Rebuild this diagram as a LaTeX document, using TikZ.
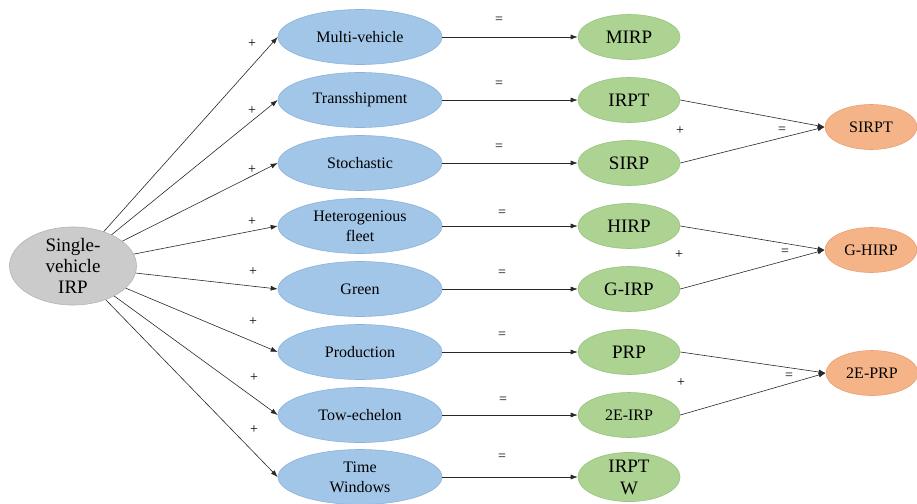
\documentclass[tikz,border=0pt]{standalone}
\usepackage{fontspec}
\newfontfamily\tnr{Liberation Serif}
\usetikzlibrary{shapes.geometric,arrows.meta}
\definecolor{bluef}{RGB}{162,198,232}
\definecolor{blued}{RGB}{140,178,220}
\definecolor{greenf}{RGB}{172,211,146}
\definecolor{greend}{RGB}{150,195,125}
\definecolor{orangef}{RGB}{245,180,136}
\definecolor{oranged}{RGB}{232,160,115}
\definecolor{grayf}{RGB}{203,203,203}
\definecolor{grayd}{RGB}{180,180,180}
\definecolor{linec}{RGB}{40,40,40}
\tikzset{
  base/.style={ellipse, inner sep=0pt, align=center},
  bluenode/.style={base, fill=bluef, draw=blued, line width=0.6pt,
     minimum width=164pt, minimum height=55pt, font=\tnr\fontsize{16}{20}\selectfont},
  greennode/.style={base, fill=greenf, draw=greend, line width=0.6pt,
     minimum width=102pt, minimum height=45pt, font=\tnr\fontsize{19}{22}\selectfont},
  orangenode/.style={base, fill=orangef, draw=oranged, line width=0.6pt,
     minimum width=92pt, minimum height=45pt, font=\tnr\fontsize{16}{19}\selectfont},
  graynode/.style={base, fill=grayf, draw=grayd, line width=0.6pt,
     minimum width=127pt, minimum height=68pt, font=\tnr\fontsize{19}{21}\selectfont},
  conn/.style={draw=linec, line width=0.6pt, -{Latex[length=7pt,width=5pt]}},
  lbl/.style={font=\tnr\fontsize{14}{14}\selectfont, inner sep=0pt},
}
\begin{document}
\begin{tikzpicture}[x=1pt,y=-1pt]
\useasboundingbox (0,0) rectangle (917,503);
\node[graynode] (src) at (73,266) {Single-\\vehicle\\IRP};

\node[bluenode] (b1) at (360,37) {Multi-vehicle};
\node[bluenode] (b2) at (360,100) {Transshipment};
\node[bluenode] (b3) at (360,163) {Stochastic};
\node[bluenode] (b4) at (360,226) {Heterogenious\\fleet};
\node[bluenode] (b5) at (360,289) {Green};
\node[bluenode] (b6) at (360,352) {Production};
\node[bluenode] (b7) at (360,415) {Tow-echelon};
\node[bluenode] (b8) at (360,477) {Time\\Windows};

\node[greennode] (g1) at (629,37) {MIRP};
\node[greennode] (g2) at (629,100) {IRPT};
\node[greennode] (g3) at (629,163) {SIRP};
\node[greennode] (g4) at (629,226) {HIRP};
\node[greennode] (g5) at (629,289) {G-IRP};
\node[greennode, font=\tnr\fontsize{16}{19}\selectfont] (g7) at (629,415) {2E-IRP};
\node[greennode] (g6) at (629,352) {PRP};
\node[greennode] (g8) at (629,477) {IRPT\\W};

\node[orangenode] (o1) at (871,127) {SIRPT};
\node[orangenode] (o2) at (871,250) {G-HIRP};
\node[orangenode] (o3) at (872,373) {2E-PRP};

\foreach \i in {1,...,8} {
  \draw[conn] (src) -- (b\i.west);
  \draw[conn] (b\i.east) -- (g\i.west);
}
\draw[conn] (g2.east) -- (o1.west);
\draw[conn] (g3.east) -- (o1.west);
\draw[conn] (g4.east) -- (o2.west);
\draw[conn] (g5.east) -- (o2.west);
\draw[conn] (g6.east) -- (o3.west);
\draw[conn] (g7.east) -- (o3.west);

\node[lbl] (p1) at (252,44) {+};
\node[lbl] (p2) at (252,111) {+};
\node[lbl] (p3) at (252,170) {+};
\node[lbl] (p4) at (252,222) {+};
\node[lbl] (p5) at (253,272) {+};
\node[lbl] (p6) at (253,322) {+};
\node[lbl] (p7) at (254,378) {+};
\node[lbl] (p8) at (254,430) {+};

\node[lbl] (e1) at (499,20) {=};
\node[lbl] (e2) at (499,84) {=};
\node[lbl] (e3) at (499,147) {=};
\node[lbl] (e4) at (502,213) {=};
\node[lbl] (e5) at (502,273) {=};
\node[lbl] (e6) at (502,335) {=};
\node[lbl] (e7) at (503,400) {=};
\node[lbl] (e8) at (502,457) {=};

\node[lbl] (q1) at (680,131) {+};
\node[lbl] (f1) at (782,130) {=};
\node[lbl] (q2) at (679,255) {+};
\node[lbl] (f2) at (785,252) {=};
\node[lbl] (q3) at (681,383) {+};
\node[lbl] (f3) at (789,376) {=};
\end{tikzpicture}
\end{document}
